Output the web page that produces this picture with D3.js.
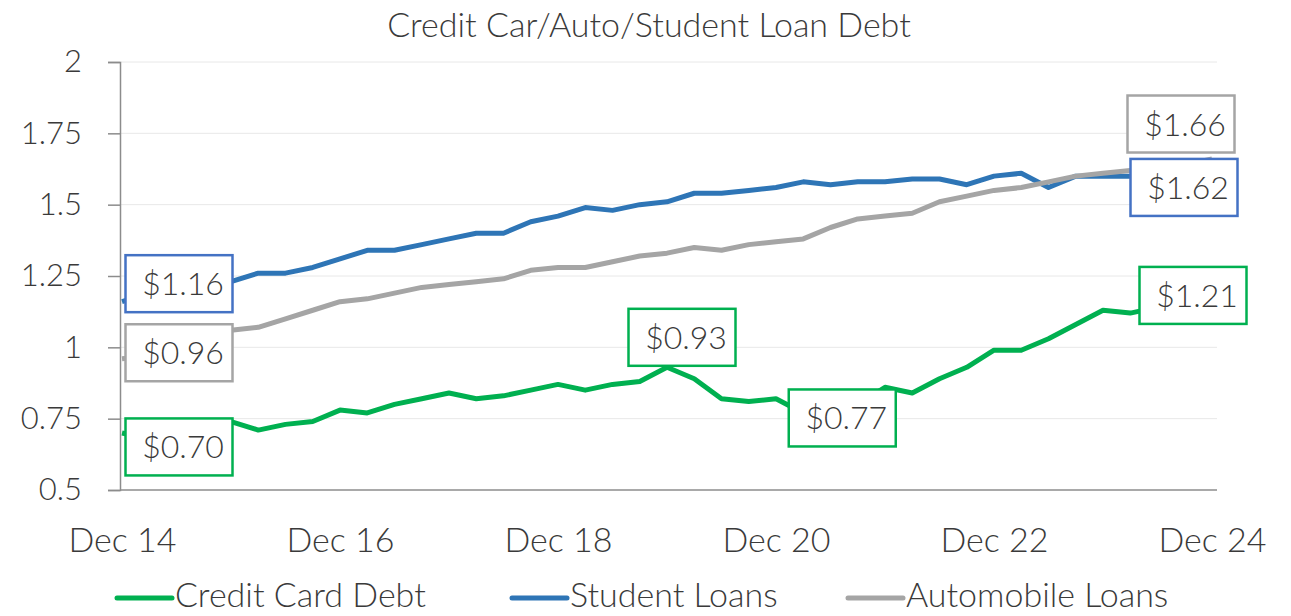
<!DOCTYPE html>
<html>
<head>
<meta charset="utf-8">
<script src="https://cdn.jsdelivr.net/npm/d3@7"></script>
<style>
  body { margin: 0; background: #fff; }
  text { font-family: Lato, "Open Sans", sans-serif; font-weight: 300; fill: #3a3a3a; }
</style>
</head>
<body>
<div id="maincontainer"></div>
<script>
// quarterly data, trillions of dollars
const quarters = ["Dec 14","Mar 15","Jun 15","Sep 15","Dec 15","Mar 16","Jun 16","Sep 16","Dec 16",
  "Mar 17","Jun 17","Sep 17","Dec 17","Mar 18","Jun 18","Sep 18","Dec 18",
  "Mar 19","Jun 19","Sep 19","Dec 19","Mar 20","Jun 20","Sep 20","Dec 20",
  "Mar 21","Jun 21","Sep 21","Dec 21","Mar 22","Jun 22","Sep 22","Dec 22",
  "Mar 23","Jun 23","Sep 23","Dec 23","Mar 24","Jun 24","Sep 24","Dec 24"];

const creditCard = [0.70,0.68,0.69,0.71,0.74,0.71,0.73,0.74,0.78,
  0.77,0.80,0.82,0.84,0.82,0.83,0.85,0.87,
  0.85,0.87,0.88,0.93,0.89,0.82,0.81,0.82,
  0.77,0.79,0.80,0.86,0.84,0.89,0.93,0.99,
  0.99,1.03,1.08,1.13,1.12,1.14,1.17,1.21];

const studentLoans = [1.16,1.19,1.19,1.20,1.23,1.26,1.26,1.28,1.31,
  1.34,1.34,1.36,1.38,1.40,1.40,1.44,1.46,
  1.49,1.48,1.50,1.51,1.54,1.54,1.55,1.56,
  1.58,1.57,1.58,1.58,1.59,1.59,1.57,1.60,
  1.61,1.56,1.60,1.60,1.60,1.59,1.61,1.62];

const autoLoans = [0.96,0.97,1.00,1.03,1.06,1.07,1.10,1.13,1.16,
  1.17,1.19,1.21,1.22,1.23,1.24,1.27,1.28,
  1.28,1.30,1.32,1.33,1.35,1.34,1.36,1.37,
  1.38,1.42,1.45,1.46,1.47,1.51,1.53,1.55,
  1.56,1.58,1.60,1.61,1.62,1.63,1.64,1.66];

const xTicks = ["Dec 14","Dec 16","Dec 18","Dec 20","Dec 22","Dec 24"];
const yTicks = [0.5,0.75,1,1.25,1.5,1.75,2];

const series = [
  {name: "Credit Card Debt", values: creditCard, color: "#00b050"},
  {name: "Student Loans", values: studentLoans, color: "#2e75b6"},
  {name: "Automobile Loans", values: autoLoans, color: "#a5a5a5"}
];

// callouts: series index, point index, box offset from the point
const callouts = [
  {s: 0, i: 0, dx: 57, dy: 14},
  {s: 1, i: 0, dx: 57, dy: -18},
  {s: 2, i: 0, dx: 57, dy: -6},
  {s: 0, i: 20, dx: 15, dy: -30},
  {s: 0, i: 25, dx: 39, dy: 5},
  {s: 2, i: 40, dx: -31, dy: -35},
  {s: 1, i: 40, dx: -28, dy: 17},
  {s: 0, i: 40, dx: -19, dy: 8}
];

let width = 1291;
let height = 616;

let svg = d3.select("#maincontainer")
  .append("svg")
  .attr("width", width)
  .attr("height", height);

let x = d3.scalePoint()
  .domain(quarters)
  .range([122, 1212]);

let y = d3.scaleLinear()
  .domain([0.5, 2])
  .range([490, 62]);

// title
svg.append("text")
  .attr("x", 649)
  .attr("y", 25)
  .attr("dy", "0.35em")
  .attr("text-anchor", "middle")
  .style("font-size", "34px")
  .text("Credit Car/Auto/Student Loan Debt");

// gridlines
svg.append("g")
  .selectAll("line")
  .data(yTicks.slice(1))
  .enter()
  .append("line")
  .attr("x1", 120)
  .attr("x2", 1217)
  .attr("y1", d => y(d))
  .attr("y2", d => y(d))
  .attr("stroke", "#e8e8e8")
  .attr("stroke-width", 1);

// y axis
let yAxis = svg.append("g")
  .attr("transform", "translate(120,0)")
  .call(d3.axisLeft(y).tickValues(yTicks).tickSize(12).tickPadding(26).tickFormat(d => String(d)));
yAxis.select(".domain").attr("stroke", "#8c8c8c").attr("stroke-width", 1.5);
yAxis.selectAll(".tick line").attr("stroke", "#8c8c8c").attr("stroke-width", 1.5);
yAxis.selectAll("text")
  .style("font-size", "31px")
  .style("font-weight", 300)
  .attr("fill", "#3a3a3a")
  .style("font-family", "Lato, sans-serif");

// x axis
let xAxis = svg.append("g")
  .attr("transform", "translate(0,490)")
  .call(d3.axisBottom(x).tickValues(xTicks).tickSize(0).tickPadding(0));
xAxis.select(".domain").attr("d", "M120,0H1217").attr("stroke", "#8c8c8c").attr("stroke-width", 1.5);
xAxis.selectAll("text")
  .attr("y", 50)
  .attr("dy", "0.34em")
  .style("font-size", "34px")
  .style("font-weight", 300)
  .attr("fill", "#3a3a3a")
  .style("font-family", "Lato, sans-serif");

// lines
let line = d3.line()
  .x((d, i) => x(quarters[i]))
  .y(d => y(d));

svg.append("g")
  .selectAll("path")
  .data(series)
  .enter()
  .append("path")
  .attr("d", d => line(d.values))
  .attr("fill", "none")
  .attr("stroke", d => d.color)
  .attr("stroke-width", 5)
  .attr("stroke-linejoin", "round");

// data labels
let boxW = 107, boxH = 57;
let labels = svg.append("g")
  .selectAll("g")
  .data(callouts)
  .enter()
  .append("g")
  .attr("transform", d => {
    let cx = x(quarters[d.i]) + d.dx;
    let cy = y(series[d.s].values[d.i]) + d.dy;
    return "translate(" + cx + "," + cy + ")";
  });

labels.append("rect")
  .attr("x", -boxW / 2)
  .attr("y", -boxH / 2)
  .attr("width", boxW)
  .attr("height", boxH)
  .attr("fill", "#fff")
  .attr("stroke", d => d.s === 1 ? "#4472c4" : series[d.s].color)
  .attr("stroke-width", 2.5);

labels.append("text")
  .attr("x", 4)
  .attr("dy", "0.36em")
  .attr("text-anchor", "middle")
  .style("font-size", "32px")
  .text(d => "$" + series[d.s].values[d.i].toFixed(2));

// legend
let legendX = [117, 512, 848];
let legend = svg.append("g")
  .selectAll("g")
  .data(series)
  .enter()
  .append("g")
  .attr("transform", (d, i) => "translate(" + legendX[i] + ",595)");

legend.append("line")
  .attr("x1", 0)
  .attr("x2", 55)
  .attr("y1", 3)
  .attr("y2", 3)
  .attr("stroke", d => d.color)
  .attr("stroke-width", 5)
  .attr("stroke-linecap", "round");

legend.append("text")
  .attr("x", 58)
  .attr("dy", "0.34em")
  .style("font-size", "34px")
  .text(d => d.name);
</script>
</body>
</html>
